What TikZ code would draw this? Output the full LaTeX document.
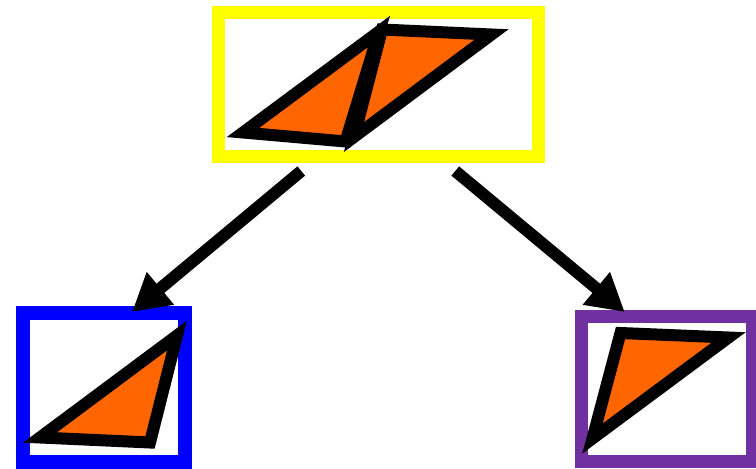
\documentclass[tikz,border=0pt]{standalone}
\usetikzlibrary{arrows.meta,positioning}
\definecolor{boxyellow}{RGB}{255,255,0}
\definecolor{boxblue}{RGB}{0,0,255}
\definecolor{boxpurple}{RGB}{112,48,160}
\definecolor{shardorange}{RGB}{255,102,0}
\tikzset{
  frame/.style={draw, rectangle, inner sep=0pt, line width=13pt},
  shard/.style={draw=black, fill=shardorange, line width=12pt, line join=miter},
  link/.style={-{Triangle[length=37pt, width=40pt]}, line width=12pt}
}
\begin{document}
\begin{tikzpicture}[x=1pt,y=-1pt]
\useasboundingbox (0,0) rectangle (756,469);

% Top: whole piece
\node[frame, draw=boxyellow, minimum width=319.5pt, minimum height=144pt] (whole) at (378.25,84.5) {};
\draw[shard] (243,132.5) -- (379,31.5) -- (345.5,141.5) -- cycle;
\draw[shard] (382,29.5) -- (491.5,34.5) -- (354,137) -- cycle;

% Bottom left: first half
\node[frame, draw=boxblue, line width=14pt, minimum width=162pt, minimum height=149pt] (lefthalf) at (104,387) {};
\draw[shard] (40,437.5) -- (177,335.5) -- (150,442.5) -- cycle;

% Bottom right: second half
\node[frame, draw=boxpurple, minimum width=170.5pt, minimum height=144.5pt] (righthalf) at (666.75,388.75) {};
\draw[shard] (592.5,438.5) -- (620.5,333) -- (728.5,337.5) -- cycle;

% Arrows: split
\coordinate (splitL) at ([xshift=-77pt, yshift=-8pt]whole.south);
\coordinate (splitR) at ([xshift=77pt, yshift=-8pt]whole.south);
\draw[link] (splitL) -- ([xshift=28pt, yshift=-6.5pt]lefthalf.north);
\draw[link] (splitR) -- ([xshift=-42pt, yshift=-2pt]righthalf.north);

\end{tikzpicture}
\end{document}
